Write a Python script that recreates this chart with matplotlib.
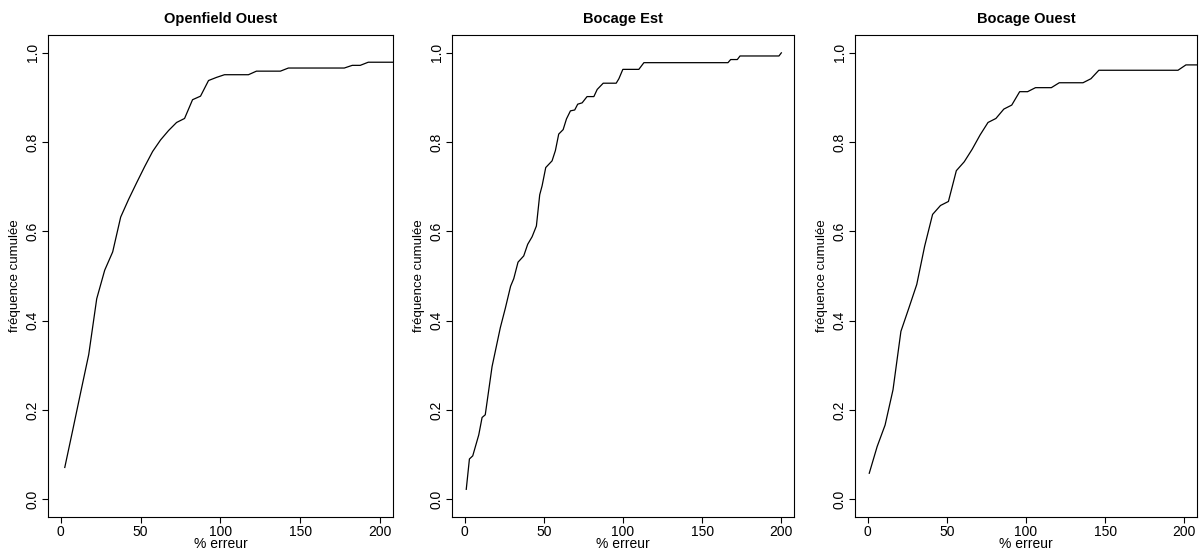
import matplotlib
matplotlib.use("Agg")
import matplotlib.pyplot as plt

plt.rcParams['font.family'] = ['Liberation Sans', 'DejaVu Sans']

titles = ["Openfield Ouest", "Bocage Est", "Bocage Ouest"]
xlabel = "% erreur"
ylabel = "fréquence cumulée"
xticks = [0, 50, 100, 150, 200]
yticks = [0.0, 0.2, 0.4, 0.6, 0.8, 1.0]
ytick_labels = ["0.0", "0.2", "0.4", "0.6", "0.8", "1.0"]

x_ouest = [2.5, 7.5, 12.5, 17.5, 22.5, 27.5, 32.5, 37.5, 42.5, 47.5, 52.5, 57.5,
           62.5, 67.5, 72.5, 77.5, 82.5, 87.5, 92.5, 97.5, 102.5, 117.5, 122.5,
           137.5, 142.5, 177.5, 182.5, 187.5, 192.5, 215.0]
y_ouest = [0.071, 0.155, 0.24, 0.324, 0.449, 0.513, 0.554, 0.632, 0.672, 0.709,
           0.745, 0.779, 0.805, 0.826, 0.844, 0.853, 0.895, 0.903, 0.938, 0.945,
           0.951, 0.951, 0.959, 0.959, 0.966, 0.966, 0.972, 0.972, 0.979, 0.979]

x_est = [1.0, 3.0, 5.1, 8.9, 11.0, 13.0, 17.3, 22.5, 25.7, 29.0, 31.0, 33.7, 37.3,
         39.8, 42.6, 45.3, 47.4, 48.9, 51.2, 55.2, 57.3, 59.4, 62.2, 64.3, 66.8,
         69.5, 71.4, 74.2, 77.3, 81.6, 83.7, 87.5, 95.7, 97.4, 99.9, 110.0, 113.2,
         166.3, 168.0, 172.2, 173.9, 198.5, 200.0]
y_est = [0.022, 0.090, 0.097, 0.144, 0.183, 0.189, 0.297, 0.384, 0.428, 0.477,
         0.494, 0.531, 0.545, 0.571, 0.588, 0.612, 0.682, 0.702, 0.743, 0.758,
         0.781, 0.818, 0.828, 0.852, 0.870, 0.872, 0.885, 0.888, 0.902, 0.902,
         0.918, 0.932, 0.932, 0.942, 0.963, 0.963, 0.978, 0.978, 0.985, 0.985,
         0.993, 0.993, 1.0]

x_bouest = [1.0, 6.0, 11.0, 16.0, 21.0, 26.0, 31.0, 36.0, 41.0, 46.0, 51.0, 56.0,
            61.0, 66.0, 71.0, 76.0, 81.0, 86.0, 91.0, 96.0, 101.0, 106.0, 116.0,
            121.0, 136.0, 141.0, 146.0, 196.0, 201.0, 215.0]
y_bouest = [0.058, 0.118, 0.166, 0.245, 0.376, 0.428, 0.481, 0.567, 0.638, 0.658,
            0.667, 0.736, 0.756, 0.784, 0.816, 0.844, 0.853, 0.874, 0.883, 0.913,
            0.913, 0.922, 0.922, 0.933, 0.933, 0.942, 0.961, 0.961, 0.973, 0.973]

series = [(x_ouest, y_ouest), (x_est, y_est), (x_bouest, y_bouest)]

W, H = 1201, 553
fig = plt.figure(figsize=(W / 100, H / 100), dpi=100)
boxes = [(48, 393), (452, 794), (855, 1197)]
top, bottom = 35, 517
ah = bottom - top

for (l, r), title, (xs, ys) in zip(boxes, titles, series):
    aw = r - l
    ax = fig.add_axes([l / W, 1 - bottom / H, aw / W, ah / H])
    ax.plot(xs, ys, color='black', lw=0.9)
    ax.set_xlim(-8, 208)
    ax.set_ylim(-0.04, 1.04)
    ax.set_xticks(xticks)
    ax.set_xticklabels([str(t) for t in xticks], fontsize=10)
    ax.set_yticks(yticks)
    ax.set_yticklabels(ytick_labels, fontsize=10, rotation=90, va='center')
    ax.tick_params(direction='out', length=4, width=0.8, pad=2)
    for s in ax.spines.values():
        s.set_linewidth(0.8)
    ax.text(0.5, 1 + 16 / ah, title, transform=ax.transAxes, ha='center',
            va='center', fontsize=10.5, fontweight='bold')
    ax.set_xlabel(xlabel, fontsize=10, va='center')
    ax.xaxis.set_label_coords(0.5, -27 / ah)
    ax.set_ylabel(ylabel, fontsize=9.5, va='center')
    ax.yaxis.set_label_coords(-33 / aw, 0.5)

fig.savefig("out.png", dpi=100)
